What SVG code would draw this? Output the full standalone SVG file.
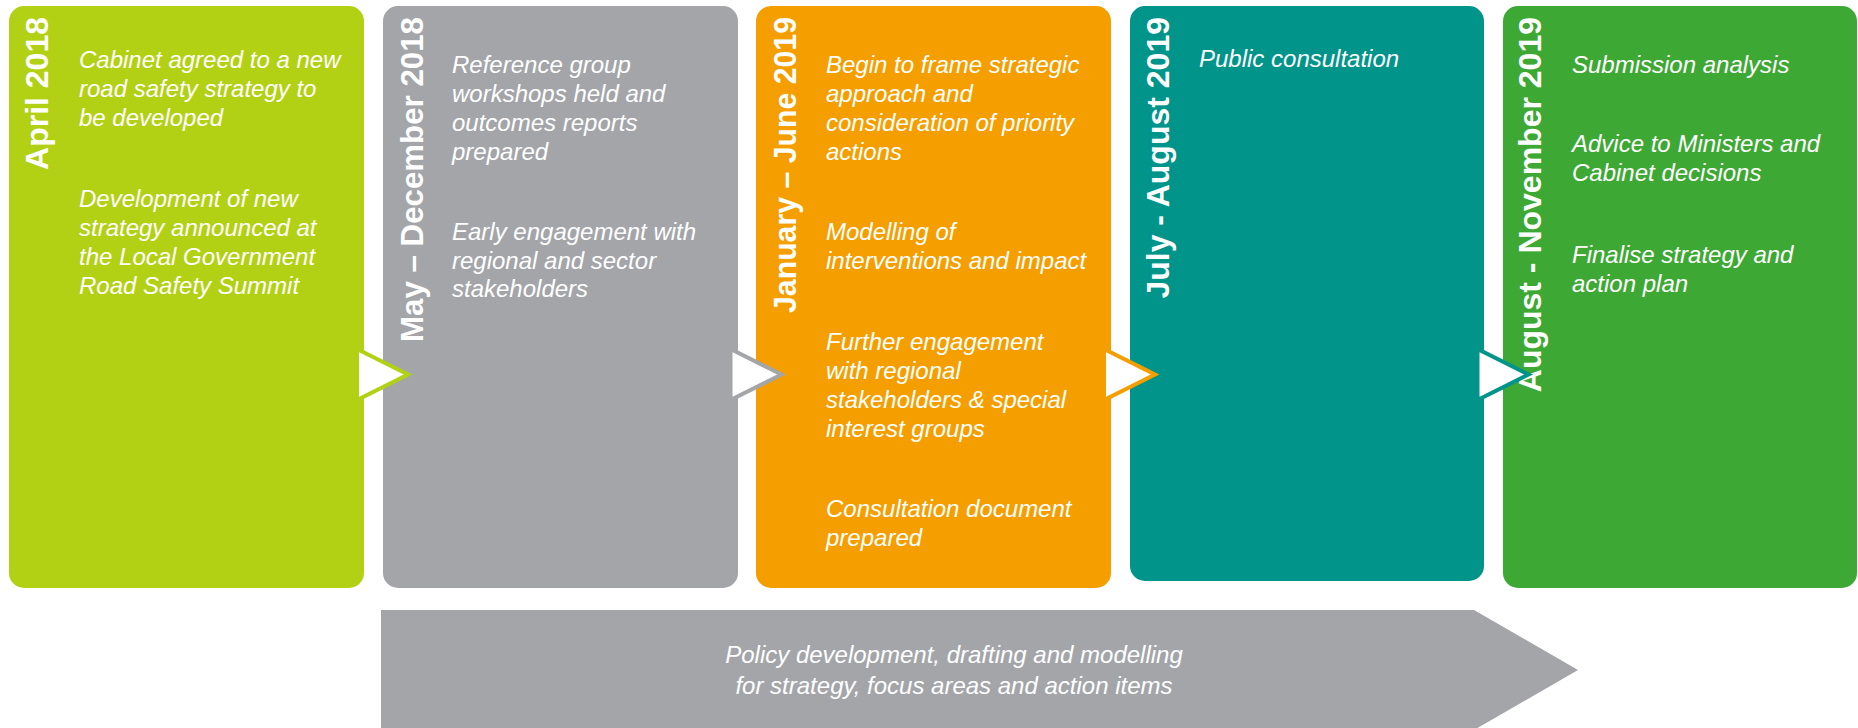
<svg xmlns="http://www.w3.org/2000/svg" width="1858" height="728" viewBox="0 0 1858 728">
<style>
.title{font-family:"Liberation Sans",Arial,sans-serif;font-weight:bold;font-size:32px;fill:#fff;text-anchor:end}
.body{font-family:"Liberation Sans",Arial,sans-serif;font-style:italic;font-size:24px;fill:#fff}
.ctr{text-anchor:middle}
.arrow{fill:#fff;stroke-width:4;stroke-linejoin:miter}
</style>
<rect width="1858" height="728" fill="#fff"/>
<g id="node-april-2018">
<rect x="9" y="6" width="355" height="582" rx="15" fill="#B3D114"/>
<text class="title" transform="translate(48,17) rotate(-90)">April 2018</text>
<text class="body"><tspan x="79" y="68">Cabinet agreed to a new</tspan><tspan x="79" y="97">road safety strategy to</tspan><tspan x="79" y="126">be developed</tspan><tspan x="79" y="207">Development of new</tspan><tspan x="79" y="236">strategy announced at</tspan><tspan x="79" y="265">the Local Government</tspan><tspan x="79" y="294">Road Safety Summit</tspan></text>
</g>
<g id="node-may-dec-2018">
<rect x="383" y="6" width="355" height="582" rx="15" fill="#A4A5A9"/>
<text class="title" transform="translate(423,17) rotate(-90)" textLength="325" lengthAdjust="spacingAndGlyphs">May – December 2018</text>
<text class="body"><tspan x="452" y="73">Reference group</tspan><tspan x="452" y="102">workshops held and</tspan><tspan x="452" y="131">outcomes reports</tspan><tspan x="452" y="160">prepared</tspan><tspan x="452" y="240">Early engagement with</tspan><tspan x="452" y="269">regional and sector</tspan><tspan x="452" y="297">stakeholders</tspan></text>
</g>
<g id="node-jan-jun-2019">
<rect x="756" y="6" width="355" height="582" rx="15" fill="#F59E00"/>
<text class="title" transform="translate(796,17) rotate(-90)" textLength="296" lengthAdjust="spacingAndGlyphs">January – June 2019</text>
<text class="body"><tspan x="826" y="73">Begin to frame strategic</tspan><tspan x="826" y="102">approach and</tspan><tspan x="826" y="131">consideration of priority</tspan><tspan x="826" y="160">actions</tspan><tspan x="826" y="240">Modelling of</tspan><tspan x="826" y="269">interventions and impact</tspan><tspan x="826" y="350">Further engagement</tspan><tspan x="826" y="379">with regional</tspan><tspan x="826" y="408">stakeholders &amp; special</tspan><tspan x="826" y="437">interest groups</tspan><tspan x="826" y="517">Consultation document</tspan><tspan x="826" y="546">prepared</tspan></text>
</g>
<g id="node-jul-aug-2019">
<rect x="1130" y="6" width="354" height="575" rx="15" fill="#00948A"/>
<text class="title" transform="translate(1169,17) rotate(-90)">July - August 2019</text>
<text class="body"><tspan x="1199" y="67">Public consultation</tspan></text>
</g>
<g id="node-aug-nov-2019">
<rect x="1503" y="6" width="354" height="582" rx="15" fill="#3EA835"/>
<text class="title" transform="translate(1541,17) rotate(-90)">August - November 2019</text>
<text class="body"><tspan x="1572" y="73">Submission analysis</tspan><tspan x="1572" y="152">Advice to Ministers and</tspan><tspan x="1572" y="181">Cabinet decisions</tspan><tspan x="1572" y="263">Finalise strategy and</tspan><tspan x="1572" y="292">action plan</tspan></text>
</g>
<g id="node-policy">
<polygon points="381,610 1474,610 1578,670 1474,730 381,730" fill="#A4A5A9"/>
<text class="body ctr"><tspan x="954" y="663">Policy development, drafting and modelling</tspan><tspan x="954" y="694">for strategy, focus areas and action items</tspan></text>
</g>
<g id="connectors">
<polygon class="arrow" points="357,349 357,400 408,374.5" stroke="#B3D114"/>
<polygon class="arrow" points="730.5,349 730.5,400 781.5,374.5" stroke="#A4A5A9"/>
<polygon class="arrow" points="1104,349 1104,400 1155,374.5" stroke="#F59E00"/>
<polygon class="arrow" points="1477.5,349 1477.5,400 1528.5,374.5" stroke="#00948A"/>
</g>
</svg>
